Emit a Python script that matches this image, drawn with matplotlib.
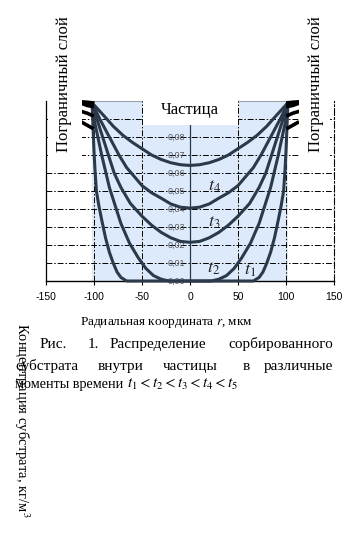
import matplotlib
matplotlib.use("Agg")
import matplotlib.pyplot as plt
from matplotlib.patches import Rectangle

plt.rcParams['mathtext.fontset'] = 'stix'
plt.rcParams['axes.unicode_minus'] = False

# ---------------- data ----------------
x_t1 = [-102, -101, -100, -99, -97.5, -95, -92, -88, -84, -80, -76, -72, -66, 0,
        66, 72, 76, 80, 84, 88, 92, 95, 97.5, 99, 100, 101, 102]
c_t1 = [0.099, 0.085, 0.072, 0.062, 0.050, 0.042, 0.034, 0.024, 0.016, 0.010, 0.005, 0.002, 0.0, 0.0,
        0.0, 0.002, 0.005, 0.010, 0.016, 0.024, 0.034, 0.042, 0.050, 0.062, 0.072, 0.085, 0.099]

x_t2 = [-102, -100, -96, -92, -88, -84, -78, -72, -63, -54, -46, -38, -30, -22, 0,
        22, 30, 38, 46, 54, 63, 72, 78, 84, 88, 92, 96, 100, 102]
c_t2 = [0.099, 0.090, 0.080, 0.070, 0.061, 0.052, 0.042, 0.032, 0.021, 0.013, 0.007, 0.003, 0.001, 0.0, 0.0,
        0.0, 0.001, 0.003, 0.007, 0.013, 0.021, 0.032, 0.042, 0.052, 0.061, 0.070, 0.080, 0.090, 0.099]

x_t3 = [-102, -97, -91, -85, -79, -72, -62, -50, -40, -30, -20, -10, 0,
        10, 20, 30, 40, 50, 62, 72, 79, 85, 91, 97, 102]
c_t3 = [0.099, 0.090, 0.080, 0.070, 0.060, 0.052, 0.043, 0.036, 0.031, 0.027, 0.024, 0.022, 0.0215,
        0.022, 0.024, 0.027, 0.031, 0.036, 0.043, 0.052, 0.060, 0.070, 0.080, 0.090, 0.099]

x_t4 = [-102, -94, -84, -74, -66, -58, -50, -40, -30, -20, -10, 0,
        10, 20, 30, 40, 50, 58, 66, 74, 84, 94, 102]
c_t4 = [0.099, 0.090, 0.080, 0.070, 0.063, 0.058, 0.053, 0.049, 0.046, 0.0428, 0.041, 0.0405,
        0.041, 0.0428, 0.046, 0.049, 0.053, 0.058, 0.063, 0.070, 0.080, 0.090, 0.099]

x_t5 = [-102, -90, -80, -70, -60, -50, -40, -30, -20, -10, 0,
        10, 20, 30, 40, 50, 60, 70, 80, 90, 102]
c_t5 = [0.099, 0.092, 0.086, 0.081, 0.077, 0.0735, 0.070, 0.0675, 0.0657, 0.0646, 0.0642,
        0.0646, 0.0657, 0.0675, 0.070, 0.0735, 0.077, 0.081, 0.086, 0.092, 0.099]

# boundary layer profiles (left and right of the particle)
x_bl_left = [-112, -107, -102]
x_bl_right = [102, 107, 112]
c_bl_left = [[0.0880, 0.0865, 0.0850],
             [0.0940, 0.0932, 0.0920],
             [0.0985, 0.0975, 0.0970],
             [0.0990, 0.0985, 0.0980],
             [0.0995, 0.0993, 0.0990]]
c_bl_right = [[0.0850, 0.0865, 0.0880],
              [0.0920, 0.0932, 0.0940],
              [0.0970, 0.0975, 0.0985],
              [0.0980, 0.0985, 0.0990],
              [0.0990, 0.0993, 0.0995]]

x_ticks = [-150, -100, -50, 0, 50, 100, 150]
x_ticklabels = ['-150', '-100', '-50', '0', '50', '100', '150']
y_ticks = [0.00, 0.01, 0.02, 0.03, 0.04, 0.05, 0.06, 0.07, 0.08]
y_ticklabels = ['0,00', '0,01', '0,02', '0,03', '0,04', '0,05', '0,06', '0,07', '0,08']
y_grid = [0.01, 0.02, 0.03, 0.04, 0.05, 0.06, 0.07, 0.08, 0.09]
x_grid = [-100, -50, 50, 100]
particle_radius = 102

curve_labels = [(r'$t_4$', 26, 0.050), (r'$t_3$', 25, 0.030),
                (r'$t_2$', 25, 0.0045), (r'$t_1$', 63, 0.0035)]

# ---------------- figure ----------------
W, H = 355, 542
fig = plt.figure(figsize=(W / 100, H / 100), dpi=100)
fig.patch.set_facecolor('white')
ax = fig.add_axes([46 / W, 1 - 281 / H, 288 / W, 180 / H])
ax.set_xlim(-150, 150)
ax.set_ylim(0, 0.10)
ax.set_facecolor('white')

serif = ['Liberation Serif', 'DejaVu Serif']
sans = ['Liberation Sans', 'DejaVu Sans']
dashdot = (0, (6, 2, 1.5, 2))
curve_col = '#2b3a4a'

# particle shading
ax.axvspan(-particle_radius, particle_radius, ymin=0, ymax=1, color='#ddeafb', zorder=0, lw=0)
ax.plot([-particle_radius, particle_radius], [0.10, 0.10], color='#9aa4ae', lw=0.8, zorder=1, clip_on=False)

# grid
for g in y_grid:
    ax.axhline(g, color='black', lw=0.7, ls=dashdot, zorder=1)
for g in x_grid:
    ax.axvline(g, color='black', lw=0.7, ls=dashdot, zorder=1)
ax.axvline(0, color=curve_col, lw=0.9, zorder=1)

# curves
for xs, cs in [(x_t1, c_t1), (x_t2, c_t2), (x_t3, c_t3), (x_t4, c_t4), (x_t5, c_t5)]:
    ax.plot(xs, cs, color=curve_col, lw=2.2, zorder=3, clip_on=False,
            solid_joinstyle='round', solid_capstyle='round')
for cs in c_bl_left:
    ax.plot(x_bl_left, cs, color='black', lw=2.6, zorder=3, clip_on=False)
for cs in c_bl_right:
    ax.plot(x_bl_right, cs, color='black', lw=2.6, zorder=3, clip_on=False)

# y tick labels inside at x=0
for v, lab in zip(y_ticks, y_ticklabels):
    ax.text(-5, v, lab, ha='right', va='center', fontsize=6.5, color='#5a5a5a',
            family=sans, zorder=2)

for lab, xx, yy in curve_labels:
    ax.text(xx, yy, lab, fontsize=13, ha='center', va='baseline', zorder=4, color='#222222')

# white box "Частица"
ax.add_patch(Rectangle((-49, 0.0867), 98.5, 0.017, facecolor='white', edgecolor='none',
                       zorder=5, clip_on=False))
ax.text(-0.5, 0.0950, 'Частица', ha='center', va='center', fontsize=12, family=serif, zorder=6)

# white boxes behind boundary layer labels
ax.add_patch(Rectangle((-148, 0.066), 35, 0.05, facecolor='white', edgecolor='none',
                       zorder=5, clip_on=False))
ax.add_patch(Rectangle((114, 0.066), 32, 0.05, facecolor='white', edgecolor='none',
                       zorder=5, clip_on=False))

# spines and ticks
ax.spines['top'].set_visible(False)
ax.spines['left'].set_linewidth(0.9)
ax.spines['bottom'].set_linewidth(1.0)
ax.spines['right'].set_linestyle(dashdot)
ax.spines['right'].set_linewidth(0.8)
ax.set_yticks([])
ax.set_xticks(x_ticks)
ax.set_xticklabels(x_ticklabels, family=sans, fontsize=7.5)
ax.tick_params(axis='x', length=3, width=0.8, pad=5)

def ftext(x, y, s, **kw):
    fig.text(x / W, 1 - y / H, s, **kw)

ftext(64, 84, 'Пограничный слой', rotation=90, ha='center', va='center', fontsize=12, family=serif)
ftext(316, 84, 'Пограничный слой', rotation=90, ha='center', va='center', fontsize=12, family=serif)

ftext(166, 323, 'Радиальная координата $r$, мкм', ha='center', va='center', fontsize=9.5, family=serif)

cap = dict(fontsize=11, family=serif, va='baseline')
ftext(40, 348, 'Рис.', ha='left', **cap)
ftext(88, 348, '1.', ha='left', **cap)
ftext(110, 348, 'Распределение', ha='left', **cap)
ftext(333, 348, 'сорбированного', ha='right', **cap)
ftext(15, 370, 'субстрата', ha='left', **cap)
ftext(98, 370, 'внутри', ha='left', **cap)
ftext(163, 370, 'частицы', ha='left', **cap)
ftext(243, 370, 'в', ha='left', **cap)
ftext(333, 370, 'различные', ha='right', **cap)
ftext(15, 388, 'моменты времени', ha='left', fontsize=10.2, family=serif, va='baseline')
ftext(127, 388, r'$t_1 < t_2 < t_3 < t_4 < t_5$', ha='left', fontsize=11, va='baseline')

fig.text(22 / W, 1 - 420 / H, 'Концентрация субстрата, кг/м$^3$', rotation=-90,
         ha='center', va='center', fontsize=10.5, family=serif, zorder=10)

fig.savefig('out.png', dpi=100, facecolor='white')
